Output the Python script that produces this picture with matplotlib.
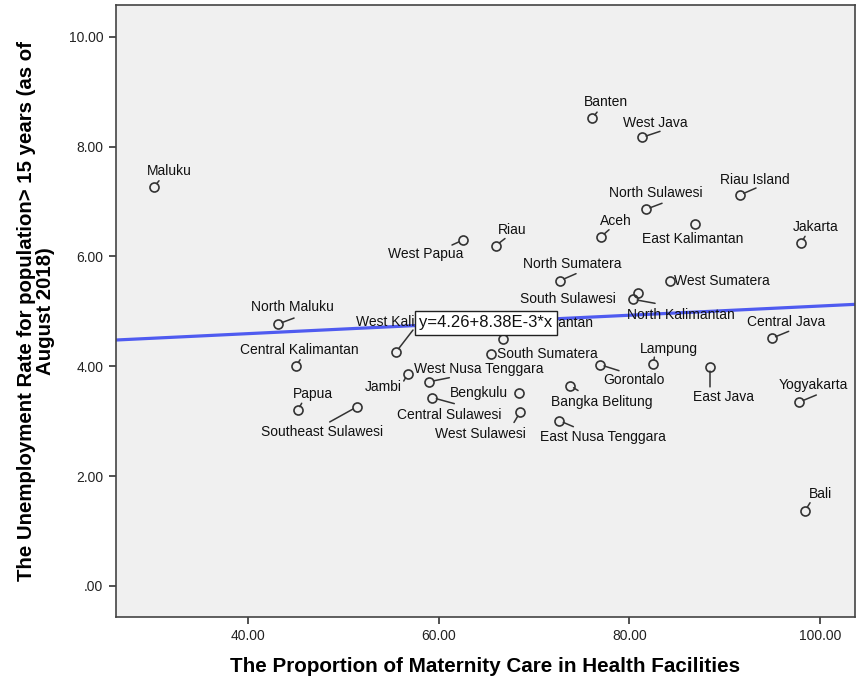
import numpy as np
import matplotlib
matplotlib.use("Agg")
import matplotlib.pyplot as plt
from matplotlib import font_manager

# provinces, maternity care in health facilities (%) vs unemployment rate (%)
provinces = ["Maluku", "Banten", "West Java", "Riau Island", "North Sulawesi", "Aceh",
             "East Kalimantan", "Riau", "Jakarta", "West Papua", "North Sumatera",
             "West Sumatera", "South Sulawesi", "North Kalimantan", "North Maluku",
             "West Kalimantan", "South Kalimantan", "South Sumatera", "Central Kalimantan",
             "Jambi", "West Nusa Tenggara", "Papua", "Southeast Sulawesi", "Bengkulu",
             "Central Sulawesi", "West Sulawesi", "East Nusa Tenggara", "Bangka Belitung",
             "Gorontalo", "Lampung", "East Java", "Central Java", "Yogyakarta", "Bali"]
maternity = [30.14, 76.09, 81.33, 91.61, 81.75, 77.03,
             86.89, 66.01, 98.01, 62.55, 72.73,
             84.27, 80.91, 80.39, 43.15,
             55.52, 66.75, 65.46, 45.04,
             56.75, 59.02, 45.21, 51.40, 68.40,
             59.33, 68.53, 72.66, 73.78,
             76.92, 82.52, 88.46, 94.93, 97.83, 98.43]
unemployment = [7.27, 8.52, 8.17, 7.12, 6.86, 6.36,
                6.60, 6.20, 6.24, 6.30, 5.56,
                5.55, 5.34, 5.22, 4.77,
                4.26, 4.50, 4.23, 4.01,
                3.86, 3.72, 3.20, 3.26, 3.51,
                3.43, 3.16, 3.01, 3.65,
                4.03, 4.04, 3.99, 4.51, 3.35, 1.37]

intercept = 4.26
slope = 8.38e-3

xticks = [40, 60, 80, 100]
xticklabels = ["40.00", "60.00", "80.00", "100.00"]
yticks = [0, 2, 4, 6, 8, 10]
yticklabels = [".00", "2.00", "4.00", "6.00", "8.00", "10.00"]

# label placement: text offset (px) and leader line end (px), relative to point
label_pos = {
    "Maluku": ((-7, 16), (5, 6)),
    "Banten": ((-8, 16), (5, 6)),
    "West Java": ((-19, 14), (18, 6)),
    "Riau Island": ((-20, 15), (16, 7)),
    "North Sulawesi": ((-37, 16), (16, 6)),
    "Aceh": ((-1, 16), (8, 7)),
    "East Kalimantan": ((-53, -15), None),
    "Riau": ((2, 16), (9, 7)),
    "Jakarta": ((-8, 16), (4, 7)),
    "West Papua": ((-75, -14), (-11, -5)),
    "North Sumatera": ((-37, 17), (16, 7)),
    "West Sumatera": ((4, 0), None),
    "South Sulawesi": ((-118, -6), None),
    "North Kalimantan": ((-6, -16), (22, -4)),
    "North Maluku": ((-27, 17), (16, 6)),
    "West Kalimantan": ((-40, 30), (17, 22)),
    "South Kalimantan": ((-20, 16), (3, 7)),
    "South Sumatera": ((6, 0), None),
    "Central Kalimantan": ((-56, 16), (4, 6)),
    "Jambi": ((-43, -13), (-4, -7)),
    "West Nusa Tenggara": ((-15, 13), (20, 4)),
    "Papua": ((-5, 16), (4, 7)),
    "Southeast Sulawesi": ((-96, -25), (-27, -15)),
    "Bengkulu": ((-69, 0), None),
    "Central Sulawesi": ((-35, -17), (22, -6)),
    "West Sulawesi": ((-85, -22), (-6, -10)),
    "East Nusa Tenggara": ((-19, -16), (14, -6)),
    "Bangka Belitung": ((-19, -16), (8, -5)),
    "Gorontalo": ((3, -15), (19, -6)),
    "Lampung": ((-14, 15), (1, 7)),
    "East Java": ((-17, -30), (0, -20)),
    "Central Java": ((-25, 16), (17, 7)),
    "Yogyakarta": ((-21, 17), (17, 7)),
    "Bali": ((4, 17), (5, 8)),
}

names = [f.name for f in font_manager.fontManager.ttflist]
narrow = "Liberation Sans Narrow" if "Liberation Sans Narrow" in names else "Liberation Sans"
plt.rcParams["font.family"] = ["Liberation Sans", "DejaVu Sans"]

fig = plt.figure(figsize=(8.56, 6.81), dpi=100)
ax = fig.add_axes([116 / 856, 1 - 617 / 681, 739 / 856, 612 / 681])
ax.set_facecolor("#f0f0f0")

xlim = (26.15, 103.67)
ylim = (-0.565, 10.58)

# fit line
xl = np.array(xlim)
ax.plot(xl, intercept + slope * xl, color="#4f5bf0", lw=2.3, zorder=2)

ax.plot(maternity, unemployment, linestyle="none", marker="o", markersize=6.5,
        markerfacecolor="none", markeredgecolor="#333333", markeredgewidth=1.2, zorder=4)

for name, x, y in zip(provinces, maternity, unemployment):
    (tdx, tdy), lead = label_pos[name]
    ax.annotate(name, (x, y), xytext=(tdx, tdy), textcoords="offset pixels",
                ha="left", va="center", fontsize=10, color="#111111", zorder=3)
    if lead is not None:
        ax.annotate("", (x, y), xytext=lead, textcoords="offset pixels",
                    arrowprops=dict(arrowstyle="-", color="#333333", lw=1.1,
                                    shrinkA=0, shrinkB=3), zorder=3)

ax.text(64.97, 4.79, "y=4.26+8.38E-3*x", ha="center", va="center", fontsize=12,
        color="#111111", zorder=6,
        bbox=dict(boxstyle="square,pad=0.28", facecolor="white", edgecolor="#222222", lw=1.0))

ax.set_xlim(xlim)
ax.set_ylim(ylim)
ax.set_xticks(xticks)
ax.set_xticklabels(xticklabels)
ax.set_yticks(yticks)
ax.set_yticklabels(yticklabels)
ax.tick_params(direction="out", length=5, width=1.2, color="#333333",
               labelsize=10, labelcolor="#222222", pad=4)
for s in ax.spines.values():
    s.set_color("#444444")
    s.set_linewidth(1.2)

ax.set_xlabel("The Proportion of Maternity Care in Health Facilities",
              fontsize=14.9, fontweight="bold", family=narrow)
ax.xaxis.set_label_coords(0.5, -0.066)
ax.set_ylabel("The Unemployment Rate for population> 15 years (as of\nAugust 2018)",
              fontsize=14.7, fontweight="bold", family=narrow, linespacing=0.95)
ax.yaxis.set_label_coords(-0.083, 0.5)

fig.savefig("out.png", dpi=100)
